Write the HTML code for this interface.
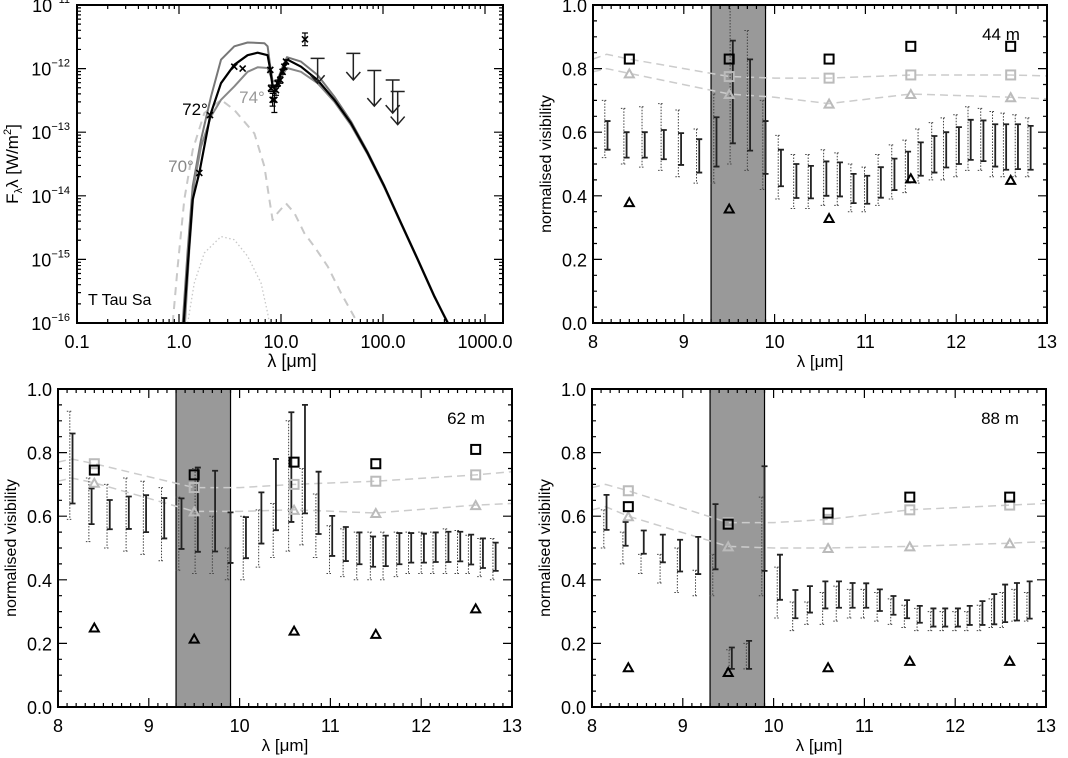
<!DOCTYPE html>
<html><head><meta charset="utf-8">
<style>
html,body{margin:0;padding:0;background:#fff;}
svg{display:block;font-family:"Liberation Sans","DejaVu Sans",sans-serif;}
</style></head>
<body>
<svg id="fig" width="1068" height="758" viewBox="0 0 1068 758" xmlns="http://www.w3.org/2000/svg"></svg>
<script>
// ---------- SED data (log10 lambda [um], log10 F [W/m2]) ----------
const sedLam72 = [0.046,0.085,0.134,0.199,0.307,0.412,0.542,0.673,0.771,0.869,0.895,0.918,0.951,1.0,1.049,1.065,1.196,1.359,1.523,1.686,1.85,2.013,2.176,2.34,2.503,2.634];
const sedF72   = [-16.0,-15.11,-14.06,-13.64,-12.73,-12.23,-11.94,-11.79,-11.75,-11.79,-12.02,-12.28,-12.28,-12.07,-11.89,-11.86,-11.97,-12.18,-12.49,-12.86,-13.33,-13.85,-14.43,-15.0,-15.58,-16.0];
const sedLam70 = [0.036,0.085,0.134,0.216,0.314,0.412,0.542,0.673,0.837,0.869,0.895,0.918,0.961,1.016,1.059,1.196,1.359,1.523,1.686,1.85,2.013,2.176,2.34,2.503,2.634];
const sedF70   = [-16.0,-14.85,-13.85,-13.12,-12.44,-11.86,-11.65,-11.59,-11.60,-11.65,-11.97,-12.20,-12.20,-11.97,-11.82,-11.89,-12.10,-12.44,-12.83,-13.31,-13.84,-14.42,-14.99,-15.57,-16.0];
const sedLam74 = [0.059,0.101,0.150,0.216,0.314,0.412,0.542,0.673,0.771,0.869,0.902,0.928,0.961,1.016,1.059,1.196,1.359,1.523,1.686,1.85,2.013,2.176,2.34,2.503,2.640];
const sedF74   = [-16.0,-14.85,-13.80,-13.23,-12.75,-12.49,-12.28,-12.05,-11.98,-11.99,-12.13,-12.31,-12.28,-12.10,-11.99,-12.05,-12.23,-12.52,-12.89,-13.35,-13.87,-14.44,-15.01,-15.59,-16.0];
const sedLamDash = [-0.062,-0.013,0.052,0.134,0.248,0.412,0.542,0.739,0.837,0.886,0.918,0.967,1.049,1.131,1.229,1.327,1.458,1.588,1.752];
const sedFDash   = [-16.0,-15.11,-14.06,-13.28,-12.70,-12.49,-12.65,-13.02,-13.54,-14.06,-14.38,-14.27,-14.12,-14.27,-14.59,-14.80,-15.11,-15.53,-16.0];
const sedLamDot = [0.085,0.150,0.248,0.412,0.542,0.673,0.804,0.869,0.886];
const sedFDot   = [-16.0,-15.37,-14.90,-14.64,-14.69,-14.95,-15.37,-15.84,-16.0];
const obsLam = [0.199,0.304,0.542,0.624,0.895,0.902,0.918,0.935,0.951,0.967,0.993,1.016,1.033,1.049,1.235];
const obsF   = [-13.64,-12.73,-11.97,-12.0,-12.02,-12.31,-12.49,-12.49,-12.34,-12.23,-12.18,-12.05,-11.97,-11.89,-11.54];
const obsErr = [0,0,0,0,0,0.05,0.1,0.2,0.08,0.05,0.05,0.04,0.04,0.03,0.1];
const limLam = [1.359,1.709,1.915,2.095,2.144];
const limTop = [-11.84,-11.76,-12.03,-12.18,-12.36];
const limTip = [-12.23,-12.18,-12.59,-12.70,-12.88];
const sedXTicks = ["0.1","1.0","10.0","100.0","1000.0"];
const sedYTicks = ["-11","-12","-13","-14","-15","-16"];

// ---------- Visibility data ----------
const visLam = [8.16,8.37,8.57,8.78,8.97,9.17,9.36,9.54,9.73,9.90,10.07,10.24,10.40,10.57,10.72,10.87,11.02,11.17,11.32,11.47,11.61,11.76,11.89,12.03,12.16,12.30,12.43,12.55,12.68,12.82];
const modLam = [8.4,9.5,10.6,11.5,12.6];
const lineLam = [8.0,8.15,8.4,9.5,10.0,10.6,11.5,12.6,13.0];
const visXTicks = ["8","9","10","11","12","13"];
const visYTicks = ["0.0","0.2","0.4","0.6","0.8","1.0"];

const hi44 = [0.635,0.60,0.60,0.607,0.597,0.578,0.647,0.888,0.829,0.635,0.545,0.50,0.494,0.508,0.505,0.469,0.463,0.49,0.517,0.539,0.568,0.588,0.60,0.616,0.639,0.637,0.625,0.625,0.625,0.62];
const lo44 = [0.545,0.52,0.52,0.515,0.497,0.473,0.492,0.565,0.542,0.469,0.43,0.393,0.392,0.40,0.398,0.377,0.375,0.394,0.418,0.442,0.463,0.473,0.489,0.50,0.513,0.509,0.492,0.482,0.484,0.482];
const dhi44 = [0.70,0.675,0.68,0.69,0.67,0.61,0.72,1.0,0.92,0.70,0.59,0.53,0.53,0.545,0.535,0.50,0.49,0.53,0.56,0.575,0.61,0.63,0.645,0.655,0.68,0.675,0.665,0.66,0.655,0.645];
const dlo44 = [0.52,0.50,0.49,0.48,0.46,0.44,0.44,0.50,0.48,0.42,0.39,0.36,0.36,0.37,0.37,0.35,0.35,0.37,0.39,0.41,0.44,0.45,0.45,0.46,0.48,0.48,0.46,0.46,0.46,0.46];
const sqB44 = [0.83,0.83,0.83,0.87,0.87];
const trB44 = [0.38,0.36,0.33,0.455,0.45];
const sqG44 = [0.83,0.775,0.77,0.78,0.78];
const trG44 = [0.785,0.72,0.69,0.72,0.71];
const lnSq44 = [0.83,0.845,0.83,0.775,0.77,0.77,0.78,0.78,0.777];
const lnTr44 = [0.79,0.80,0.785,0.72,0.71,0.69,0.72,0.71,0.705];

const hi62 = [0.86,0.687,0.651,0.662,0.666,0.657,0.656,0.753,0.743,0.612,0.597,0.675,0.78,0.927,0.95,0.74,0.601,0.566,0.549,0.536,0.539,0.547,0.547,0.545,0.549,0.551,0.551,0.542,0.53,0.517];
const lo62 = [0.64,0.575,0.559,0.56,0.55,0.53,0.497,0.488,0.489,0.453,0.468,0.514,0.556,0.582,0.609,0.544,0.475,0.459,0.449,0.441,0.443,0.449,0.454,0.454,0.456,0.456,0.458,0.448,0.437,0.428];
const dhi62 = [0.93,0.72,0.70,0.72,0.71,0.69,0.66,0.75,0.60,0.50,0.60,0.62,0.64,0.90,0.75,0.67,0.57,0.56,0.55,0.55,0.55,0.55,0.55,0.55,0.55,0.56,0.555,0.54,0.53,0.53];
const dlo62 = [0.59,0.52,0.50,0.49,0.48,0.46,0.43,0.42,0.42,0.40,0.40,0.44,0.47,0.49,0.51,0.47,0.42,0.41,0.40,0.40,0.40,0.41,0.42,0.42,0.42,0.42,0.42,0.42,0.41,0.40];
const sqB62 = [0.745,0.73,0.77,0.765,0.81];
const trB62 = [0.25,0.215,0.24,0.23,0.31];
const sqG62 = [0.765,0.69,0.70,0.71,0.73];
const trG62 = [0.705,0.615,0.62,0.61,0.635];
const lnSq62 = [0.77,0.78,0.765,0.69,0.69,0.70,0.71,0.73,0.74];
const lnTr62 = [0.71,0.72,0.705,0.615,0.615,0.62,0.61,0.635,0.64];

const hi88 = [0.667,0.582,0.555,0.542,0.526,0.535,0.638,0.187,0.208,0.757,0.479,0.368,0.38,0.395,0.395,0.39,0.389,0.37,0.349,0.336,0.318,0.31,0.31,0.31,0.318,0.333,0.355,0.385,0.39,0.395];
const lo88 = [0.557,0.507,0.482,0.455,0.426,0.418,0.433,0.12,0.12,0.428,0.337,0.279,0.297,0.31,0.312,0.312,0.312,0.302,0.29,0.279,0.265,0.253,0.253,0.253,0.258,0.258,0.26,0.267,0.272,0.278];
const dhi88 = [0.62,0.55,0.48,0.48,0.50,0.43,0.48,0.18,0.20,0.66,0.44,0.33,0.33,0.36,0.38,0.37,0.37,0.36,0.34,0.32,0.31,0.30,0.30,0.30,0.30,0.32,0.34,0.36,0.37,0.36];
const dlo88 = [0.50,0.45,0.42,0.39,0.36,0.35,0.35,0.12,0.12,0.35,0.28,0.24,0.26,0.26,0.27,0.28,0.28,0.27,0.26,0.25,0.24,0.24,0.24,0.24,0.24,0.24,0.25,0.25,0.27,0.27];
const sqB88 = [0.63,0.575,0.61,0.66,0.66];
const trB88 = [0.125,0.11,0.125,0.145,0.145];
const sqG88 = [0.68,0.58,0.59,0.62,0.635];
const trG88 = [0.60,0.505,0.50,0.505,0.515];
const lnSq88 = [0.69,0.70,0.68,0.58,0.58,0.59,0.62,0.635,0.64];
const lnTr88 = [0.62,0.63,0.60,0.505,0.50,0.50,0.505,0.515,0.52];

const NS = "http://www.w3.org/2000/svg";
const svg = document.getElementById("fig");
function mk(tag, attrs, parent){
  const e = document.createElementNS(NS, tag);
  for (const k in attrs) e.setAttribute(k, attrs[k]);
  (parent||svg).appendChild(e);
  return e;
}
function txt(s, x, y, anchor, size, fill, parent){
  const t = mk("text", {x:x, y:y, "text-anchor":anchor, "font-size":size, fill:fill||"#000"}, parent);
  t.textContent = s;
  return t;
}

// ================= SED panel =================
(function(){
  const L=77, R=503, T=5, B=323, dec=102;
  const g = mk("g", {});
  
  
  const X = v => L + (v+1)*dec;
  const Y = v => T + (-11 - v)*((B-T)/5);
  const clip = mk("clipPath", {id:"sedclip"}, g);
  mk("rect", {x:L, y:T, width:R-L, height:B-T}, clip);
  const pg = mk("g", {"clip-path":"url(#sedclip)"}, g);
  function curve(lx, ly, stroke, w, dash, name){
    const d = lx.map((v,i)=>(i?"L":"M")+X(v).toFixed(1)+" "+Y(ly[i]).toFixed(1)).join(" ");
    const p = mk("path", {d:d, fill:"none", stroke:stroke, "stroke-width":w, "stroke-dasharray":dash||"none", "stroke-linejoin":"round"}, pg);
    
    
  }
  curve(sedLamDot, sedFDot, "#c8c8c8", 1.3, "1.5 2.5", "stellar-photosphere-dotted");
  curve(sedLamDash, sedFDash, "#c8c8c8", 2, "8 6", "model-component-dashed");
  curve(sedLam70, sedF70, "#777", 2, null, "model-70deg");
  curve(sedLam74, sedF74, "#888", 2, null, "model-74deg");
  curve(sedLam72, sedF72, "#000", 2.2, null, "model-72deg");
  obsLam.forEach((v,i)=>{
    const x=X(v), y=Y(obsF[i]);
    const c = mk("path", {d:`M${x-3} ${y-3}L${x+3} ${y+3}M${x-3} ${y+3}L${x+3} ${y-3}`, stroke:"#000", "stroke-width":1.6}, pg);
    
    
    if (obsErr[i]>0){
      const y1=Y(obsF[i]+obsErr[i]), y2=Y(obsF[i]-obsErr[i]);
      mk("path", {d:`M${x} ${y1}L${x} ${y2}M${x-3} ${y1}L${x+3} ${y1}M${x-3} ${y2}L${x+3} ${y2}`, stroke:"#000", "stroke-width":1.2}, pg);
    }
  });
  limLam.forEach((v,i)=>{
    const x=X(v), y1=Y(limTop[i]), y2=Y(limTip[i]);
    const a = mk("path", {d:`M${x-7} ${y1}L${x+7} ${y1}M${x} ${y1}L${x} ${y2}M${x-7} ${y2-8}L${x} ${y2}L${x+7} ${y2-8}`, stroke:"#222", "stroke-width":1.5, fill:"none"}, pg);
    
    
  });
  const f = mk("rect", {x:L, y:T, width:R-L, height:B-T, fill:"none", stroke:"#000", "stroke-width":2}, g);
  
  
  let tk = "";
  for (let d=-1; d<=3; d++){
    for (let m=1; m<=9; m++){
      const v = d + Math.log10(m); const x = X(v);
      if (x>R) break;
      const len = m===1?9:4;
      tk += `M${x} ${B}L${x} ${B-len}M${x} ${T}L${x} ${T+len}`;
    }
  }
  for (let d=-16; d<-11; d++){
    for (let m=1; m<=9; m++){
      const y = Y(d+Math.log10(m)); const len = m===1?9:4;
      tk += `M${L} ${y}L${L+len} ${y}M${R} ${y}L${R-len} ${y}`;
    }
  }
  mk("path", {d:tk, stroke:"#000", "stroke-width":1.2, fill:"none"}, g);
  sedXTicks.forEach((s,i)=>{ const t=txt(s, X(i-1), 348, "middle", 18, "#000", g);
      });
  sedYTicks.forEach((s,i)=>{
    const y = Y(-11-i);
    const t = mk("text", {x:70, y:y+7, "text-anchor":"end", "font-size":18}, g);
    
    
    t.appendChild(document.createTextNode("10"));
    const s2 = mk("tspan", {dy:-9, "font-size":11}, t); s2.textContent = "\u2212"+s.slice(1);
  });
  const xt = txt("\u03bb  [\u03bcm]", 292, 367, "middle", 18, "#000", g);
   
  const yt = mk("text", {x:0, y:0, transform:"translate(18,164) rotate(-90)", "text-anchor":"middle", "font-size":17}, g);
   
  yt.appendChild(document.createTextNode("F"));
  const sub = mk("tspan", {dy:4, "font-size":11}, yt); sub.textContent="\u03bb";
  const rest = mk("tspan", {dy:-4}, yt); rest.textContent="\u03bb [W/m";
  const sup = mk("tspan", {dy:-7, "font-size":11}, yt); sup.textContent="2";
  const rb = mk("tspan", {dy:7}, yt); rb.textContent="]";
  const l1 = txt("72\u00b0", 195, 115, "middle", 17, "#000", g);
   
  const l2 = txt("74\u00b0", 252, 103, "middle", 17, "#999", g);
   
  const l3 = txt("70\u00b0", 181, 172, "middle", 17, "#888", g);
   
  const l4 = txt("T Tau Sa", 88, 305, "start", 16, "#000", g);
   
})();

// ================= Visibility panels =================
function visPanel(L, T, name, baseline, hi, lo, dhi, dlo, sqB, trB, sqG, trG, lnSq, lnTr){
  const R = L+454, B = T+318;
  const g = mk("g", {});
  
  
  const X = v => L + (v-8)*(R-L)/5;
  const Y = v => B - v*(B-T);
  const band = mk("rect", {x:X(9.3), y:T, width:X(9.9)-X(9.3), height:B-T, fill:"#999", stroke:"#000", "stroke-width":1.2}, g);
  
  
  function dline(arr, name){
    const d = lineLam.map((v,i)=>(i?"L":"M")+X(v).toFixed(1)+" "+Y(arr[i]).toFixed(1)).join(" ");
    const p = mk("path", {d:d, fill:"none", stroke:"#ccc", "stroke-width":1.5, "stroke-dasharray":"8 5"}, g);
    
    
  }
  dline(lnSq, 'model-square-line');
  dline(lnTr, 'model-triangle-line');
  visLam.forEach((v,i)=>{
    const xd = X(v-0.03), y1 = Y(dhi[i]), y2 = Y(dlo[i]);
    const p = mk("path", {d:`M${xd} ${y1}L${xd} ${y2}M${xd-3} ${y1}L${xd+3} ${y1}M${xd-3} ${y2}L${xd+3} ${y2}`, stroke:"#444", "stroke-width":1, "stroke-dasharray":"1.5 1.5", fill:"none"}, g);
    
    
  });
  visLam.forEach((v,i)=>{
    const x = X(v), y1 = Y(hi[i]), y2 = Y(lo[i]);
    const p = mk("path", {d:`M${x} ${y1}L${x} ${y2}M${x-3} ${y1}L${x+3} ${y1}M${x-3} ${y2}L${x+3} ${y2}`, stroke:"#222", "stroke-width":1.8, fill:"none"}, g);
    
    
  });
  function sq(v, val, col, nm){
    const r = mk("rect", {x:X(v)-4.5, y:Y(val)-4.5, width:9, height:9, fill:"none", stroke:col, "stroke-width":2}, g);
     
  }
  function tr(v, val, col, nm){
    const x=X(v), y=Y(val);
    const p = mk("path", {d:`M${x-4.5} ${y+4}L${x+4.5} ${y+4}L${x} ${y-4}Z`, fill:"none", stroke:col, "stroke-width":2}, g);
     
  }
  modLam.forEach((v,i)=>{ sq(v, sqG[i], "#bbb", 'model-square-gray'); tr(v, trG[i], "#bbb", 'model-triangle-gray'); });
  modLam.forEach((v,i)=>{ sq(v, sqB[i], "#000", 'model-square-black'); tr(v, trB[i], "#000", 'model-triangle-black'); });
  const f = mk("rect", {x:L, y:T, width:R-L, height:B-T, fill:"none", stroke:"#000", "stroke-width":2}, g);
   
  let tk = "";
  for (let k=0;k<=50;k++){ const x = X(8+k*0.1); const len = k%10===0?9:4;
    tk += `M${x} ${B}L${x} ${B-len}M${x} ${T}L${x} ${T+len}`; }
  for (let k=0;k<=20;k++){ const y = Y(k*0.05); const len = k%4===0?9:4;
    tk += `M${L} ${y}L${L+len} ${y}M${R} ${y}L${R-len} ${y}`; }
  mk("path", {d:tk, stroke:"#000", "stroke-width":1.2, fill:"none"}, g);
  visXTicks.forEach((s,i)=>{ const t = txt(s, X(8+i), T+343, "middle", 18, "#000", g);
      });
  visYTicks.forEach((s,i)=>{ const t = txt(s, L-6, Y(i*0.2)+7, "end", 18, "#000", g);
      });
  const xt = txt("\u03bb [\u03bcm]", X(10.5), T+362, "middle", 17, "#000", g);
   
  const yt = mk("text", {transform:`translate(${L-42},${(T+B)/2}) rotate(-90)`, "text-anchor":"middle", "font-size":16}, g);
  yt.textContent = "normalised visibility";
   
  const bl = txt(baseline, R-46, T+35, "middle", 17, "#000", g);
   
}
visPanel(593, 5, 'visibility-panel-44m', "44  m", hi44, lo44, dhi44, dlo44, sqB44, trB44, sqG44, trG44, lnSq44, lnTr44);
visPanel(58, 389, 'visibility-panel-62m', "62  m", hi62, lo62, dhi62, dlo62, sqB62, trB62, sqG62, trG62, lnSq62, lnTr62);
visPanel(592, 389, 'visibility-panel-88m', "88  m", hi88, lo88, dhi88, dlo88, sqB88, trB88, sqG88, trG88, lnSq88, lnTr88);
</script>
</body></html>
